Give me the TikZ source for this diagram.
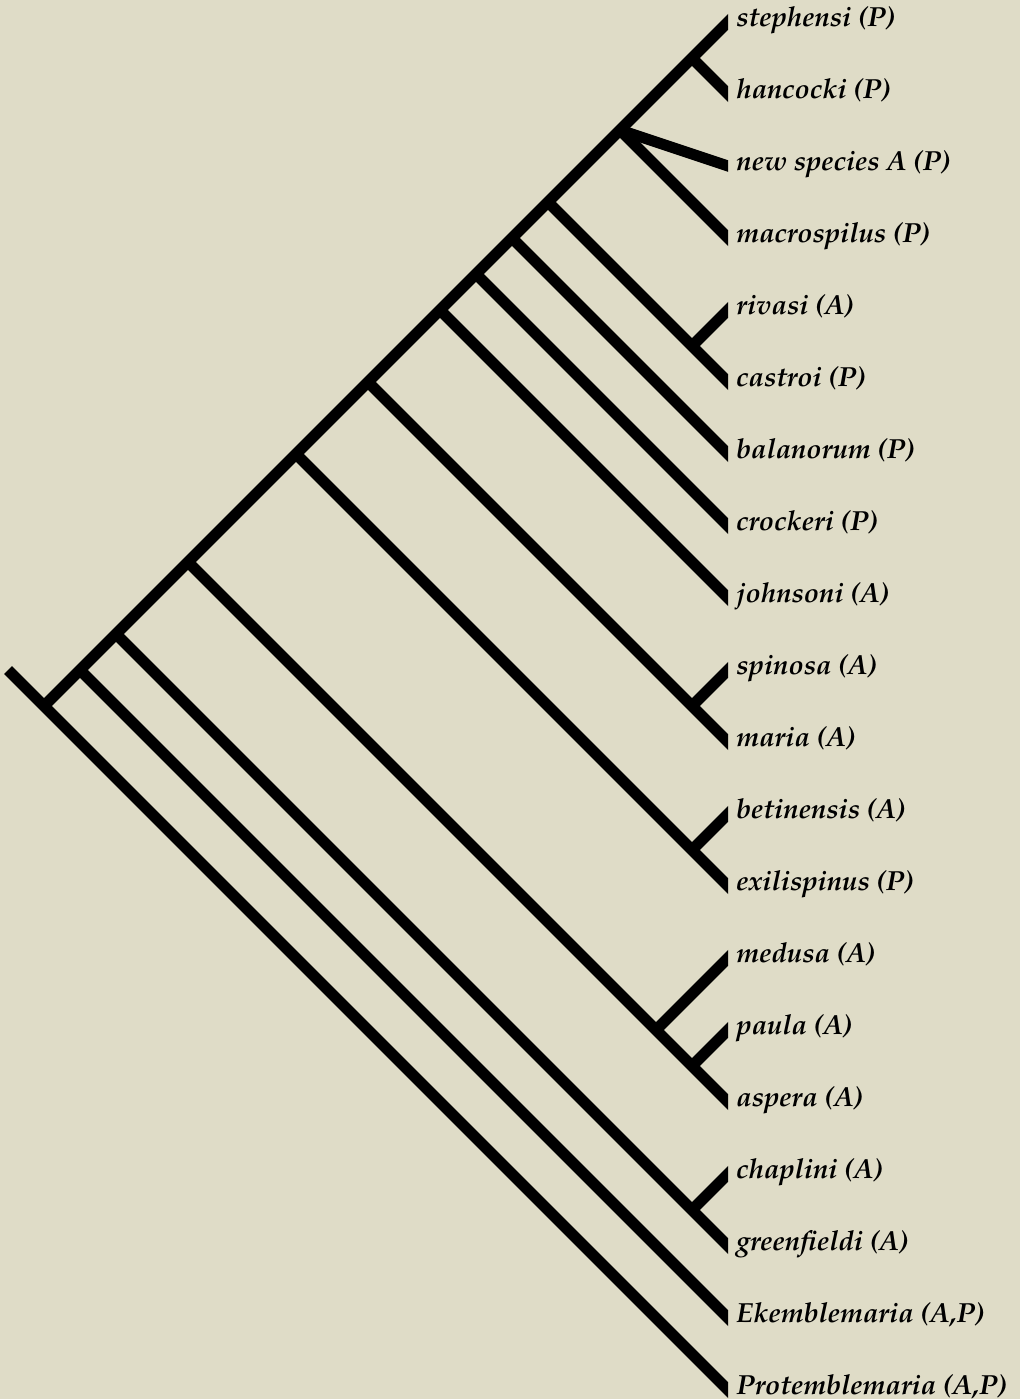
\documentclass[tikz,border=0pt]{standalone}
\usepackage[T1]{fontenc}
\usepackage{mathpazo}
\usetikzlibrary{positioning}
\definecolor{paper}{RGB}{223,220,199}

\begin{document}
\begin{tikzpicture}[
    x=0.5pt, y=-0.5pt, % one unit = one pixel of the reference
    branch/.style={draw, line width=5.5pt, shorten >=-4pt},
    taxon/.style={anchor=base west, inner sep=0pt, font=\fontsize{13.8}{15}\selectfont\bfseries\itshape}
]
    % Page and background
    \fill[paper] (0,0) rectangle (1020,1399);
    \useasboundingbox (0,0) rectangle (1020,1399);

    % Tips of the terminal taxa
    \coordinate (steph) at (728,22);
    \coordinate (hanc) at (728,94);
    \coordinate (newsp) at (728,166);
    \coordinate (macro) at (728,238);
    \coordinate (rivasi) at (728,310);
    \coordinate (castroi) at (728,382);
    \coordinate (balan) at (728,454);
    \coordinate (crock) at (728,526);
    \coordinate (johns) at (728,598);
    \coordinate (spin) at (728,670);
    \coordinate (maria) at (728,742);
    \coordinate (betin) at (728,814);
    \coordinate (exil) at (728,886);
    \coordinate (medusa) at (728,958);
    \coordinate (paula) at (728,1030);
    \coordinate (aspera) at (728,1102);
    \coordinate (chap) at (728,1174);
    \coordinate (green) at (728,1246);
    \coordinate (ekem) at (728,1318);
    \coordinate (protem) at (728,1390);

    % Labels of the taxa
    \node[taxon] (steph-lbl) at (736,26) {stephensi (P)};
    \node[taxon] (hanc-lbl) at (736,98) {hancocki (P)};
    \node[taxon] (newsp-lbl) at (736,170) {new species A (P)};
    \node[taxon] (macro-lbl) at (736,242) {macrospilus (P)};
    \node[taxon] (rivasi-lbl) at (736,314) {rivasi (A)};
    \node[taxon] (castroi-lbl) at (736,386) {castroi (P)};
    \node[taxon] (balan-lbl) at (736,458) {balanorum (P)};
    \node[taxon] (crock-lbl) at (736,530) {crockeri (P)};
    \node[taxon] (johns-lbl) at (736,602) {johnsoni (A)};
    \node[taxon] (spin-lbl) at (736,674) {spinosa (A)};
    \node[taxon] (maria-lbl) at (736,746) {maria (A)};
    \node[taxon] (betin-lbl) at (736,818) {betinensis (A)};
    \node[taxon] (exil-lbl) at (736,890) {exilispinus (P)};
    \node[taxon] (medusa-lbl) at (736,962) {medusa (A)};
    \node[taxon] (paula-lbl) at (736,1034) {paula (A)};
    \node[taxon] (aspera-lbl) at (736,1106) {aspera (A)};
    \node[taxon] (chap-lbl) at (736,1178) {chaplini (A)};
    \node[taxon] (green-lbl) at (736,1250) {greenfieldi (A)};
    \node[taxon] (ekem-lbl) at (736,1322) {Ekemblemaria (A,P)};
    \node[taxon] (protem-lbl) at (736,1394) {Protemblemaria (A,P)};

    % Internal nodes along the spine
    \coordinate (stub) at (8,670);
    \coordinate (root) at (44,706);
    \coordinate (n-ekem) at (80,670);
    \coordinate (n-chap) at (116,634);
    \coordinate (n-medusa) at (188,562);
    \coordinate (n-betin) at (296,454);
    \coordinate (n-spin) at (368,382);
    \coordinate (n-johns) at (440,310);
    \coordinate (n-crock) at (476,274);
    \coordinate (n-balan) at (512,238);
    \coordinate (n-rivasi) at (548,202);
    \coordinate (n-macro) at (620,130);
    \coordinate (n-steph) at (692,58);

    % Internal nodes of the small clades
    \coordinate (c-rivasi) at (692,346);
    \coordinate (c-spin) at (692,706);
    \coordinate (c-betin) at (692,850);
    \coordinate (c-medusa) at (656,1030);
    \coordinate (c-paula) at (692,1066);
    \coordinate (c-chap) at (692,1210);

    % Branches, cut off square at the tips
    \begin{scope}
        \clip (0,0) rectangle (728,1399);
        \path[branch] (stub) -- (protem);
        \path[branch] (root) -- (steph);
        \path[branch] (n-steph) -- (hanc);
        \path[branch] (n-macro) -- (newsp);
        \path[branch] (n-macro) -- (macro);
        \path[branch] (n-rivasi) -- (castroi);
        \path[branch] (c-rivasi) -- (rivasi);
        \path[branch] (n-balan) -- (balan);
        \path[branch] (n-crock) -- (crock);
        \path[branch] (n-johns) -- (johns);
        \path[branch] (n-spin) -- (maria);
        \path[branch] (c-spin) -- (spin);
        \path[branch] (n-betin) -- (exil);
        \path[branch] (c-betin) -- (betin);
        \path[branch] (n-medusa) -- (aspera);
        \path[branch] (c-medusa) -- (medusa);
        \path[branch] (c-paula) -- (paula);
        \path[branch] (n-chap) -- (green);
        \path[branch] (c-chap) -- (chap);
        \path[branch] (n-ekem) -- (ekem);
    \end{scope}
\end{tikzpicture}
\end{document}
